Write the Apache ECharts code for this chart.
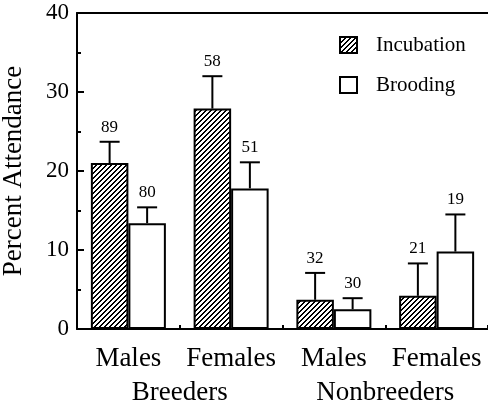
<!DOCTYPE html>
<html>
<head>
<meta charset="utf-8">
<script src="https://cdn.jsdelivr.net/npm/echarts@6/dist/echarts.min.js"></script>
<style>html,body{margin:0;padding:0;background:#fff;}#c{width:488px;height:405px;}</style>
</head>
<body>
<div id="c"></div>
<script>
var categories = ['Males', 'Females', 'Males', 'Females'];
var groups = ['Breeders', 'Nonbreeders'];
var seriesNames = ['Incubation', 'Brooding'];
var incubationMean = [21.0, 27.9, 3.7, 4.2];
var incubationErr = [2.7, 4.1, 3.4, 4.1];
var incubationN = [89, 58, 32, 21];
var broodingMean = [13.4, 17.8, 2.5, 9.8];
var broodingErr = [2.0, 3.3, 1.4, 4.7];
var broodingN = [80, 51, 30, 19];
var yTicks = [0, 10, 20, 30, 40];

var FONT = 'Liberation Serif';
var GAP = 0.27;

function makeHatch() {
  var n = 5;
  var cv = document.createElement('canvas');
  cv.width = n; cv.height = n;
  var ctx = cv.getContext('2d');
  var img = ctx.createImageData(n, n);
  for (var y = 0; y < n; y++) {
    for (var x = 0; x < n; x++) {
      var k = (x + y) % n;
      var v = (k < 2) ? 0 : 255;
      var i = (y * n + x) * 4;
      img.data[i] = v; img.data[i+1] = v; img.data[i+2] = v; img.data[i+3] = 255;
    }
  }
  ctx.putImageData(img, 0, 0);
  return cv;
}
var hatch = {image: makeHatch(), repeat: 'repeat'};

function errData(mean, err, nn) {
  return mean.map(function (m, i) { return [i, m, err[i], nn[i]]; });
}
function errRender(side) {
  return function (params, api) {
    var cat = api.value(0), val = api.value(1), err = api.value(2), n = api.value(3);
    var bandW = api.size([1, 0])[0];
    var off = bandW * (1 - GAP) / 4 * side;
    var p0 = api.coord([cat, val]);
    var p1 = api.coord([cat, val + err]);
    var x = p0[0] + off;
    var st = {stroke: '#000', lineWidth: 2};
    return {
      type: 'group',
      children: [
        {type: 'line', shape: {x1: x, y1: p0[1], x2: x, y2: p1[1]}, style: st},
        {type: 'line', shape: {x1: x - 10, y1: p1[1], x2: x + 10, y2: p1[1]}, style: st},
        {type: 'text', style: {text: String(n), x: x, y: p1[1] - 6, align: 'center', verticalAlign: 'bottom',
          font: '17px "' + FONT + '"', fill: '#000'}}
      ]
    };
  };
}

var chart = echarts.init(document.getElementById('c'), null, {renderer: 'canvas'});
var axisLineStyle = {color: '#000', width: 2};
chart.setOption({
  animation: false,
  backgroundColor: '#fff',
  textStyle: {fontFamily: FONT, color: '#000'},
  grid: {left: 77, right: 0, top: 13, bottom: 76, containLabel: false, outerBoundsMode: 'none'},
  legend: {
    orient: 'vertical', left: 334, top: 29, itemWidth: 17, itemHeight: 16, itemGap: 18,
    icon: 'rect',
    data: seriesNames,
    textStyle: {fontFamily: FONT, fontSize: 21, color: '#000', lineHeight: 22, padding: [0, 0, 0, 14]}
  },
  xAxis: [
    {type: 'category', data: categories, position: 'bottom',
      axisLine: {show: true, lineStyle: axisLineStyle},
      axisTick: {show: true, inside: true, length: 4, lineStyle: {color: '#000', width: 2}},
      axisLabel: {fontFamily: FONT, fontSize: 27, color: '#000', margin: 16, interval: 0, hideOverlap: false},
      splitLine: {show: false}},
    {type: 'category', data: groups, position: 'bottom', offset: 34,
      axisLine: {show: false}, axisTick: {show: false},
      axisLabel: {fontFamily: FONT, fontSize: 27, color: '#000', margin: 16, interval: 0},
      splitLine: {show: false}},
    {type: 'category', data: categories, position: 'top',
      axisLine: {show: true, lineStyle: axisLineStyle}, axisTick: {show: false},
      axisLabel: {show: false}, splitLine: {show: false}}
  ],
  yAxis: {
    type: 'value', min: yTicks[0], max: yTicks[yTicks.length - 1], interval: 10,
    name: 'Percent Attendance', nameLocation: 'middle', nameRotate: 90, nameGap: 50,
    nameTextStyle: {fontFamily: FONT, fontSize: 27, color: '#000'},
    axisLine: {show: true, lineStyle: axisLineStyle},
    axisTick: {show: true, inside: true, length: 7, lineStyle: {color: '#000', width: 2}},
    minorTick: {show: true, splitNumber: 2, length: 4, lineStyle: {color: '#000', width: 2}},
    axisLabel: {fontFamily: FONT, fontSize: 23, color: '#000', margin: 8},
    splitLine: {show: false}
  },
  series: [
    {name: seriesNames[0], type: 'bar', data: incubationMean, barGap: '0%', barCategoryGap: (GAP * 100) + '%',
      itemStyle: {color: hatch, borderColor: '#000', borderWidth: 2}},
    {name: seriesNames[1], type: 'bar', data: broodingMean, barGap: '0%', barCategoryGap: (GAP * 100) + '%',
      itemStyle: {color: '#fff', borderColor: '#000', borderWidth: 2}},
    {type: 'custom', renderItem: errRender(-1), data: errData(incubationMean, incubationErr, incubationN),
      encode: {x: 0, y: 1}, clip: false, z: 5, silent: true},
    {type: 'custom', renderItem: errRender(1), data: errData(broodingMean, broodingErr, broodingN),
      encode: {x: 0, y: 1}, clip: false, z: 5, silent: true}
  ]
});
</script>
</body>
</html>
